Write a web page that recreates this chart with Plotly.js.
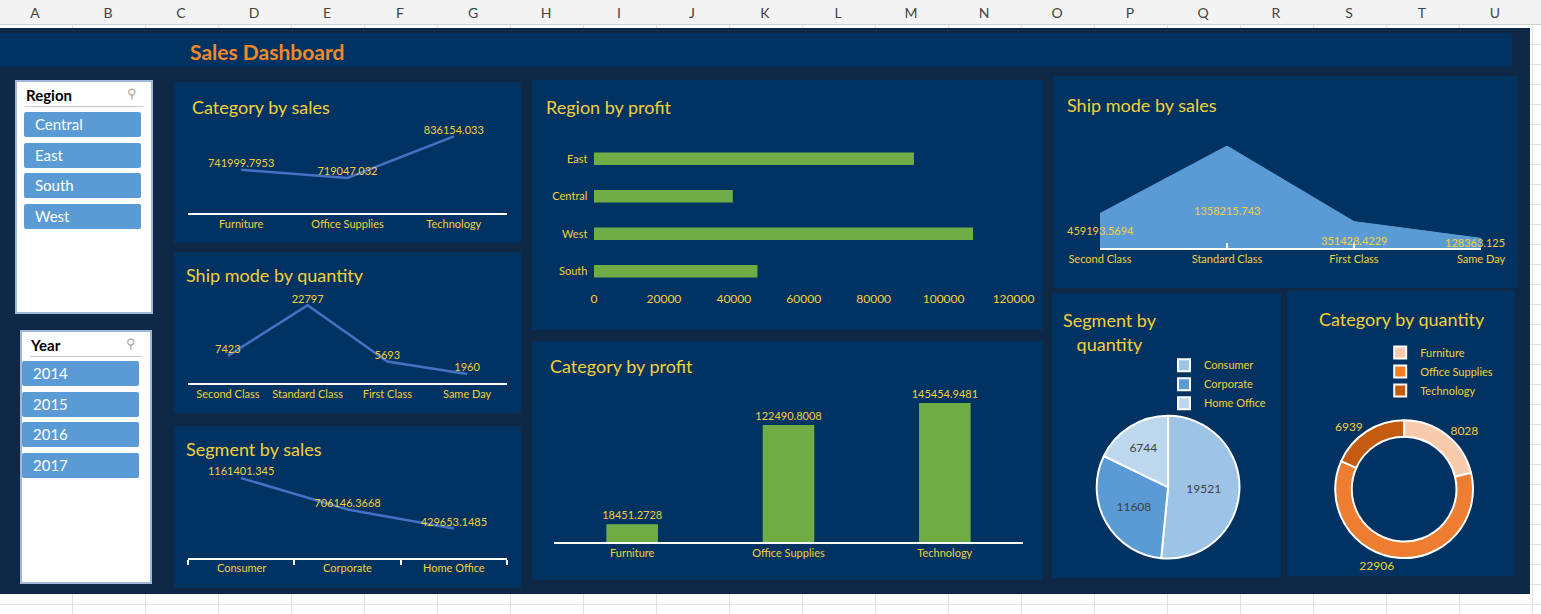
<!DOCTYPE html>
<html>
<head>
<meta charset="utf-8">
<script src="https://cdn.plot.ly/plotly-3.0.1.min.js"></script>
<style>
  body { margin: 0; width: 1541px; height: 614px; position: relative; overflow: hidden;
    font-family: Lato, "Open Sans", sans-serif;
    background-color: #fff;
    background-image: linear-gradient(#e2e2e2 1px, transparent 1px), linear-gradient(90deg, #e2e2e2 1px, transparent 1px);
    background-size: 73px 20px; background-position: -1px 4px; }
  .colhead { position: absolute; top: 0; left: 0; width: 1541px; height: 24px; background: #f3f3f3; border-bottom: 1px solid #cfcfcf; }
  .colhead span { position: absolute; top: 4px; font-size: 14px; color: #444; width: 20px; text-align: center; }
  .dash { position: absolute; left: 0; top: 28px; width: 1530px; height: 566px; background: #0e2846; }
  .bar { position: absolute; left: 0; top: 33px; width: 1512px; height: 34px; background: #003361; }
  .bar span { position: absolute; left: 190px; top: 6px; font-size: 21px; font-weight: bold; color: #f0892a; }
  .panel { position: absolute; background: #003361; }
  .ptitle { position: absolute; color: #f5d03b; font-size: 18px; line-height: 24px; z-index: 2; pointer-events: none; }
  .slicer { position: absolute; background: #fff; border: 2px solid #9fb8d8; }
  .slicer .hd { position: absolute; left: 9px; top: 4px; font-size: 15px; font-weight: bold; color: #000; }
  .slicer .ic { position: absolute; right: 14px; top: 3px; font-size: 13px; color: #aaa; }
  .slicer .ln { position: absolute; left: 8px; right: 8px; top: 24px; border-top: 1px solid #c8c8c8; }
  .slicer .btn { position: absolute; height: 25px; background: #5b9bd5; color: #fff; font-size: 15px; line-height: 25px; padding-left: 11px; border-radius: 2px; box-sizing: border-box; }
</style>
</head>
<body>
<div class="colhead" id="colhead"></div>
<div class="dash"></div>
<div class="bar"><span>Sales Dashboard</span></div>
<div class="slicer" id="region-slicer" style="left:15px;top:80px;width:134px;height:230px"></div>
<div class="slicer" id="year-slicer" style="left:20px;top:330px;width:128px;height:250px"></div>
<div id="charts"></div>
<script>
const COLUMNS = ["A","B","C","D","E","F","G","H","I","J","K","L","M","N","O","P","Q","R","S","T","U"];
const REGIONS = ["Central", "East", "South", "West"];
const YEARS = ["2014", "2015", "2016", "2017"];

const CATEGORIES = ["Furniture", "Office Supplies", "Technology"];
const CATEGORY_SALES = [741999.7953, 719047.032, 836154.033];
const CATEGORY_PROFIT = [18451.2728, 122490.8008, 145454.9481];
const CATEGORY_QTY = [8028, 22906, 6939];

const SHIP_MODES = ["Second Class", "Standard Class", "First Class", "Same Day"];
const SHIP_QTY = [7423, 22797, 5693, 1960];
const SHIP_SALES = [459193.5694, 1358215.743, 351428.4229, 128363.125];

const SEGMENTS = ["Consumer", "Corporate", "Home Office"];
const SEGMENT_SALES = [1161401.345, 706146.3668, 429653.1485];
const SEGMENT_QTY = [19521, 11608, 6744];

const PROFIT_REGIONS = ["East", "Central", "West", "South"];
const REGION_PROFIT = [91522.78, 39706.36, 108418.45, 46749.43];

const YELLOW = "#f5d03b";
const PANEL = "#003361";
const CONFIG = { displayModeBar: false, staticPlot: true };

COLUMNS.forEach((c, i) => {
  const s = document.createElement("span");
  s.textContent = c;
  s.style.left = `${25 + i * 73}px`;
  document.getElementById("colhead").appendChild(s);
});

function buildSlicer(id, title, items, left, top, width) {
  const box = document.getElementById(id);
  box.innerHTML = `<div class="hd">${title}</div><div class="ic">&#x26B2;</div><div class="ln"></div>`;
  items.forEach((item, i) => {
    const b = document.createElement("div");
    b.className = "btn";
    b.textContent = item;
    b.style.left = `${left}px`;
    b.style.top = `${top + i * 30.5}px`;
    b.style.width = `${width}px`;
    box.appendChild(b);
  });
}
buildSlicer("region-slicer", "Region", REGIONS, 7, 30, 117);
buildSlicer("year-slicer", "Year", YEARS, 0, 29, 117);

function panel(id, left, top, width, height, title, tx, ty, center) {
  const d = document.createElement("div");
  d.className = "panel";
  d.id = id;
  Object.assign(d.style, { left: `${left}px`, top: `${top}px`, width: `${width}px`, height: `${height}px` });
  document.getElementById("charts").appendChild(d);
  const t = document.createElement("div");
  t.className = "ptitle";
  t.innerHTML = title;
  Object.assign(t.style, { left: `${left + tx}px`, top: `${top + ty}px` });
  if (center) t.style.textAlign = "center";
  document.getElementById("charts").appendChild(t);
  return id;
}

function baseLayout(margin) {
  return {
    paper_bgcolor: PANEL,
    plot_bgcolor: PANEL,
    font: { family: "Lato, Open Sans, sans-serif", color: YELLOW, size: 11 },
    margin,
    showlegend: false,
  };
}

function axisX(extra) {
  return Object.assign({ showgrid: false, zeroline: false, showline: true, linecolor: "#ffffff", linewidth: 2,
    tickfont: { color: YELLOW, size: 11 }, fixedrange: true }, extra);
}
function hiddenY(range) {
  return { visible: false, range, fixedrange: true };
}

function lineChart(id, labels, values, yRange, xExtra, annotations) {
  const trace = {
    type: "scatter", mode: "lines+text", x: labels, y: values,
    line: { color: "#4472c4", width: 2.5 },
    text: values.map(String), textposition: "top center",
    textfont: { color: YELLOW, size: 11 }, cliponaxis: false,
  };
  const layout = baseLayout({ t: 46, r: 14, b: 30, l: 14 });
  layout.xaxis = axisX(xExtra || {});
  layout.yaxis = hiddenY(yRange);
  if (annotations) layout.annotations = annotations;
  Plotly.newPlot(id, [trace], layout, CONFIG);
}

lineChart(panel("cat-sales", 174, 82, 347, 161, "Category by sales", 18, 13), CATEGORIES, CATEGORY_SALES,
  [620000, 860000], { range: [-0.5, 2.5], ticks: "" });
lineChart(panel("ship-qty", 174, 252, 347, 161, "Ship mode by quantity", 12, 11), SHIP_MODES, SHIP_QTY,
  [-800, 25000], { range: [-0.5, 3.5], ticks: "" });
lineChart(panel("seg-sales", 174, 426, 347, 162, "Segment by sales", 12, 11), SEGMENTS, SEGMENT_SALES,
  [0, 1250000], { range: [-0.5, 2.5], ticks: "outside", tickcolor: "#fff", ticklen: 5, tickwidth: 2,
    tickmode: "array", tickvals: [-0.5, 0.5, 1.5, 2.5], ticktext: ["", "", "", ""] },
  SEGMENTS.map((s, i) => ({ x: i, y: 0, yref: "paper", yshift: -18, text: s, showarrow: false,
    font: { color: YELLOW, size: 11 } })));

// Region by profit
(function () {
  const id = panel("region-profit", 532, 80, 511, 250, "Region by profit", 14, 15);
  const trace = { type: "bar", orientation: "h", x: REGION_PROFIT, y: PROFIT_REGIONS,
    marker: { color: "#70ad47" }, width: 0.33 };
  const layout = baseLayout({ t: 60, r: 12, b: 40, l: 62 });
  layout.xaxis = { range: [0, 125000], tickmode: "array", tickvals: [0, 20000, 40000, 60000, 80000, 100000, 120000],
    tickformat: "d", showgrid: false, zeroline: false, showline: false,
    tickfont: { color: YELLOW, size: 12 }, fixedrange: true };
  layout.yaxis = { autorange: "reversed", showgrid: false, showline: false, ticks: "", ticksuffix: "  ",
    tickfont: { color: YELLOW, size: 11 }, fixedrange: true };
  Plotly.newPlot(id, [trace], layout, CONFIG);
})();

// Category by profit
(function () {
  const id = panel("cat-profit", 532, 341, 511, 239, "Category by profit", 18, 13);
  const trace = { type: "bar", x: CATEGORIES, y: CATEGORY_PROFIT, marker: { color: "#70ad47" }, width: 0.33,
    text: CATEGORY_PROFIT.map(String), textposition: "outside", constraintext: "none",
    textfont: { color: YELLOW, size: 11 }, cliponaxis: false };
  const layout = baseLayout({ t: 62, r: 20, b: 38, l: 22 });
  layout.xaxis = axisX({ ticks: "" });
  layout.yaxis = hiddenY([0, 145454.9481]);
  Plotly.newPlot(id, [trace], layout, CONFIG);
})();

// Ship mode by sales (area)
(function () {
  const id = panel("ship-sales", 1053, 76, 464, 212, "Ship mode by sales", 14, 17);
  const xs = SHIP_MODES.map((_, i) => i);
  const trace = { type: "scatter", mode: "lines", x: xs, y: SHIP_SALES, fill: "tozeroy",
    fillcolor: "#5b9bd5", line: { color: "#5b9bd5", width: 1 } };
  const layout = baseLayout({ t: 70, r: 36, b: 40, l: 47 });
  layout.xaxis = axisX({ range: [0, 3], tickmode: "array", tickvals: xs, ticktext: SHIP_MODES,
    ticks: "inside", tickcolor: "#fff", ticklen: 5, tickwidth: 2 });
  layout.yaxis = hiddenY([0, 1358215.743]);
  const shifts = [18, 0, 8, 6];
  layout.annotations = SHIP_SALES.map((v, i) => ({ x: i, y: i === 1 ? v * 0.37 : 0, yshift: shifts[i],
    text: String(v), showarrow: false, font: { color: YELLOW, size: 11 } }));
  layout.annotations[3].xshift = -6;
  Plotly.newPlot(id, [trace], layout, CONFIG);
})();

// Segment by quantity (pie)
(function () {
  const id = panel("seg-qty", 1052, 293, 229, 285, "Segment by<br>quantity", 11, 15, true);
  const trace = { type: "pie", labels: SEGMENTS, values: SEGMENT_QTY, sort: false, direction: "clockwise",
    rotation: 0, marker: { colors: ["#9dc3e6", "#5b9bd5", "#bdd7ee"], line: { color: "#fff", width: 2 } },
    texttemplate: "%{value:d}", textposition: "inside", insidetextfont: { color: "#404040", size: 12 },
    domain: { x: [0.17, 0.87], y: [0.03, 0.58] } };
  const layout = baseLayout({ t: 10, r: 10, b: 10, l: 10 });
  layout.showlegend = true;
  layout.legend = { x: 0.5, y: 0.82, xanchor: "left", yanchor: "top", font: { color: YELLOW, size: 11 },
    bgcolor: "rgba(0,0,0,0)", itemwidth: 30 };
  Plotly.newPlot(id, [trace], layout, CONFIG);
})();

// Category by quantity (donut)
(function () {
  const id = panel("cat-qty", 1287, 291, 228, 285, "Category by quantity", 32, 16);
  const trace = { type: "pie", labels: CATEGORIES, values: CATEGORY_QTY, sort: false, direction: "clockwise",
    rotation: 0, hole: 0.76, marker: { colors: ["#f8cbad", "#ed7d31", "#c55a11"], line: { color: "#fff", width: 2 } },
    texttemplate: "%{value:d}", textposition: "outside", outsidetextfont: { color: YELLOW, size: 12 },
    domain: { x: [0.1, 0.93], y: [0.03, 0.55] } };
  const layout = baseLayout({ t: 10, r: 10, b: 10, l: 10 });
  layout.showlegend = true;
  layout.legend = { x: 0.4, y: 0.86, xanchor: "left", yanchor: "top", font: { color: YELLOW, size: 11 },
    bgcolor: "rgba(0,0,0,0)", itemwidth: 30 };
  Plotly.newPlot(id, [trace], layout, CONFIG);
})();
</script>
</body>
</html>
